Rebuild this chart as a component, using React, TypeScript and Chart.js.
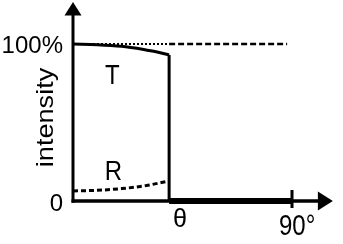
import React, { useEffect, useRef } from 'react';
import { Chart, registerables } from 'chart.js';

Chart.register(...registerables);

// ---- data ----
const THETA_C = 39.5; // critical angle (degrees)
const T_ANGLES = [0, 10, 20, 30, 35, 39.5];
const T_VALUES = [100, 99.6, 98.5, 96.2, 94.8, 93.0];
const R_ANGLES = [0, 10, 20, 30, 39.5];
const R_VALUES = [6.4, 6.8, 7.9, 9.8, 12.8];
const FULL_LEVEL = 100;
const FULL_DASH_END = 88;
const X_AXIS_END = 106.8;
const Y_AXIS_END = 126.8;
const X_END_TICK = 90;
const Y_TICK_VALUES = [100, 0];
const Y_TICK_LABELS = ['100%', '0'];
const X_TICK_VALUES = [THETA_C, X_END_TICK];
const X_TICK_LABELS = ['θ', '90°'];
const Y_TITLE = 'intensity';
const CURVE_LABELS = ['T', 'R'];

// ---- layout / style ----
const W = 343;
const H = 244;
const FONT = '"Liberation Sans", Arial, Helvetica, sans-serif';
const X_MIN = -30;
const X_MAX = -30 + 343 / (219 / 90);
const Y_MAX = 201 / 1.57;
const Y_MIN = Y_MAX - 244 / 1.57;

const pts = (xs: number[], ys: number[]) => xs.map((x, i) => ({ x, y: ys[i] }));

function drawText(
  ctx: CanvasRenderingContext2D,
  text: string,
  px: number,
  py: number,
  size: number,
  align: CanvasTextAlign,
  sx = 1,
  sy = 1,
  rot = 0
) {
  ctx.save();
  ctx.translate(px, py);
  if (rot) ctx.rotate(rot);
  ctx.scale(sx, sy);
  ctx.font = `${size}px ${FONT}`;
  ctx.textAlign = align;
  ctx.textBaseline = 'alphabetic';
  ctx.fillStyle = '#000';
  ctx.fillText(text, 0, 0);
  ctx.restore();
}

const overlay = {
  id: 'overlay',
  afterDatasetsDraw(chart: any) {
    const { ctx } = chart;
    const xs = chart.scales.x;
    const ys = chart.scales.y;
    const ax = xs.getPixelForValue(0);
    const ay = ys.getPixelForValue(0);
    ctx.save();
    ctx.fillStyle = '#000';
    // y arrow head
    const tipY = ys.getPixelForValue(Y_AXIS_END);
    ctx.beginPath();
    ctx.moveTo(ax, tipY);
    ctx.lineTo(ax - 8.5, tipY + 13.5);
    ctx.lineTo(ax + 8.5, tipY + 13.5);
    ctx.closePath();
    ctx.fill();
    // x arrow head
    const tipX = xs.getPixelForValue(X_AXIS_END);
    ctx.beginPath();
    ctx.moveTo(tipX, ay);
    ctx.lineTo(tipX - 15, ay - 9.5);
    ctx.lineTo(tipX - 15, ay + 9.5);
    ctx.closePath();
    ctx.fill();
    ctx.restore();

    // y tick labels
    const yOffsets = [8.5, 10];
    Y_TICK_VALUES.forEach((v, i) => {
      drawText(ctx, Y_TICK_LABELS[i], ax - 10, ys.getPixelForValue(v) + yOffsets[i], 24, 'right');
    });
    // x tick labels
    const xOffsets = [4, -13];
    const xBase = [227, 235];
    const xSize = [24, 24];
    const xSx = [1.05, 1];
    const xSy = [1.1, 1.22];
    X_TICK_VALUES.forEach((v, i) => {
      drawText(ctx, X_TICK_LABELS[i], xs.getPixelForValue(v) + xOffsets[i], xBase[i], xSize[i], 'left', xSx[i], xSy[i]);
    });
    // y title
    drawText(ctx, Y_TITLE, ax - 20.5, ys.getPixelForValue(53.2), 24, 'center', 1.13, 1, -Math.PI / 2);
    // curve labels
    const labelPos = [
      { x: 16.2, y: 74.5 },
      { x: 16.6, y: 13.4 },
    ];
    CURVE_LABELS.forEach((t, i) => {
      drawText(ctx, t, xs.getPixelForValue(labelPos[i].x), ys.getPixelForValue(labelPos[i].y), 24, 'center', 1, 1.17);
    });
  },
};

export default function App() {
  const ref = useRef<HTMLCanvasElement | null>(null);

  useEffect(() => {
    if (!ref.current) return;
    const tEnd = T_VALUES[T_VALUES.length - 1];
    const base = {
      borderColor: '#000',
      backgroundColor: '#000',
      pointRadius: 0,
      fill: false,
      clip: false as any,
    };
    const chart = new Chart(ref.current, {
      type: 'line',
      data: {
        datasets: [
          { ...base, data: [{ x: 0, y: -1.1 }, { x: 0, y: Y_AXIS_END - 5 }], borderWidth: 3 },
          { ...base, data: [{ x: -0.62, y: 0 }, { x: X_AXIS_END - 3, y: 0 }], borderWidth: 3.5 },
          { ...base, data: [{ x: THETA_C, y: 0 }, { x: X_END_TICK, y: 0 }], borderWidth: 6 },
          { ...base, data: [{ x: X_END_TICK, y: 7 }, { x: X_END_TICK, y: -4.5 }], borderWidth: 3 },
          { ...base, data: [{ x: THETA_C, y: tEnd }, { x: THETA_C, y: 0 }], borderWidth: 3 },
          {
            ...base,
            data: [{ x: 0, y: FULL_LEVEL }, { x: THETA_C, y: FULL_LEVEL }],
            borderWidth: 2,
            borderDash: [2, 2],
          },
          {
            ...base,
            data: [{ x: THETA_C, y: FULL_LEVEL }, { x: FULL_DASH_END, y: FULL_LEVEL }],
            borderWidth: 2.5,
            borderDash: [6, 3],
          },
          {
            ...base,
            data: pts(T_ANGLES, T_VALUES),
            borderWidth: 3,
            cubicInterpolationMode: 'monotone',
          },
          {
            ...base,
            data: pts(R_ANGLES, R_VALUES),
            borderWidth: 3,
            borderDash: [5, 3],
            cubicInterpolationMode: 'monotone',
          },
        ],
      },
      options: {
        animation: false,
        responsive: false,
        devicePixelRatio: 1,
        events: [],
        layout: { padding: 0 },
        plugins: { legend: { display: false }, tooltip: { enabled: false }, title: { display: false } },
        scales: {
          x: { type: 'linear', min: X_MIN, max: X_MAX, display: false },
          y: { type: 'linear', min: Y_MIN, max: Y_MAX, display: false },
        },
      },
      plugins: [overlay],
    });
    return () => chart.destroy();
  }, []);

  return (
    <div style={{ position: 'fixed', left: 0, top: 0, width: W, height: H, background: '#fff' }}>
      <canvas ref={ref} width={W} height={H} style={{ display: 'block' }} />
    </div>
  );
}
